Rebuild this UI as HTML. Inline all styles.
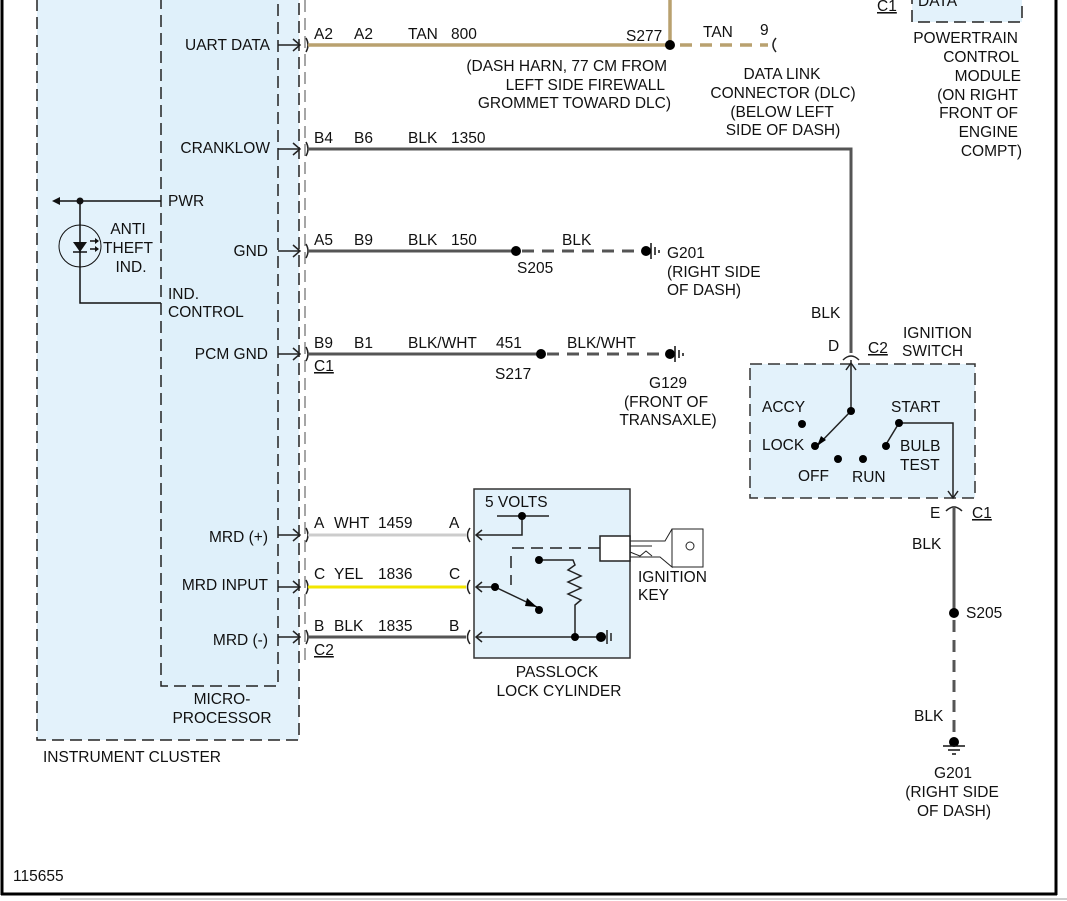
<!DOCTYPE html>
<html><head><meta charset="utf-8"><style>
html,body{margin:0;padding:0;background:#fff;width:1067px;height:901px;overflow:hidden}
svg{display:block}
text{font-family:"Liberation Sans",sans-serif;font-size:15.5px;fill:#111}
</style></head><body>
<svg width="1067" height="901" viewBox="0 0 1067 901">
<!-- frame -->
<line x1="2" y1="0" x2="2" y2="895" stroke="#000" stroke-width="3"/>
<line x1="1056" y1="0" x2="1056" y2="895" stroke="#000" stroke-width="3"/>
<line x1="1" y1="894" x2="1057" y2="894" stroke="#000" stroke-width="3"/>
<line x1="60" y1="899" x2="1067" y2="899" stroke="#999" stroke-width="1"/>

<!-- instrument cluster -->
<rect x="37" y="-5" width="262" height="745" fill="#e3f2fb" stroke="#222" stroke-width="1.5" stroke-dasharray="12,6"/>
<rect x="161" y="-5" width="117" height="691" fill="#dff0fa" stroke="#222" stroke-width="1.5" stroke-dasharray="12,6"/>
<line x1="305" y1="0" x2="305" y2="660" stroke="#888" stroke-width="1.5" stroke-dasharray="12,6"/>
<text x="270" y="50" text-anchor="end">UART DATA</text>
<text x="270" y="153" text-anchor="end">CRANKLOW</text>
<text x="168" y="206">PWR</text>
<text x="268" y="256" text-anchor="end">GND</text>
<text x="168" y="299">IND.</text>
<text x="168" y="317">CONTROL</text>
<text x="268" y="359" text-anchor="end">PCM GND</text>
<text x="268" y="542" text-anchor="end">MRD (+)</text>
<text x="268" y="590" text-anchor="end">MRD INPUT</text>
<text x="268" y="645" text-anchor="end">MRD (-)</text>
<text x="222" y="704" text-anchor="middle">MICRO-</text>
<text x="222" y="723" text-anchor="middle">PROCESSOR</text>
<text x="43" y="762">INSTRUMENT CLUSTER</text>
<text x="13" y="881">115655</text>

<!-- anti theft -->
<g stroke="#111" stroke-width="1.5" fill="none">
<polyline points="161,201 80,201 80,303 161,303"/>
<line x1="80" y1="201" x2="58" y2="201"/>
<circle cx="80" cy="246" r="21" stroke-width="1"/>
<line x1="73" y1="252" x2="87" y2="252"/>
<line x1="90" y1="241" x2="98" y2="241"/><line x1="90" y1="249" x2="98" y2="249"/>
</g>
<polygon points="52,201 60,197 60,205" fill="#111"/>
<circle cx="80" cy="201" r="3.5" fill="#111"/>
<polygon points="73,242 87,242 80,252" fill="#111"/>
<polygon points="99,241 95,238 95,244" fill="#111"/><polygon points="99,249 95,246 95,252" fill="#111"/>
<text x="128" y="234" text-anchor="middle">ANTI</text>
<text x="128" y="253" text-anchor="middle">THEFT</text>
<text x="131" y="272" text-anchor="middle">IND.</text>

<!-- pin arrows -->
<g stroke="#222" stroke-width="1.5" fill="none">
<path d="M278 45H300M293 39L300 45L293 51M306 38Q310 45 306 52"/>
<path d="M278 149H300M293 143L300 149L293 155M306 142Q310 149 306 156"/>
<path d="M278 251H300M293 245L300 251L293 257M306 244Q310 251 306 258"/>
<path d="M278 354H300M293 348L300 354L293 360M306 347Q310 354 306 361"/>
<path d="M278 535H300M293 529L300 535L293 541M306 528Q310 535 306 542"/>
<path d="M278 587H300M293 581L300 587L293 593M306 580Q310 587 306 594"/>
<path d="M278 637H300M293 631L300 637L293 643M306 630Q310 637 306 644"/>
</g>

<!-- wires -->
<line x1="308" y1="45" x2="670" y2="45" stroke="#b9a16f" stroke-width="3.5"/>
<line x1="670" y1="0" x2="670" y2="45" stroke="#b9a16f" stroke-width="3.5"/>
<line x1="680" y1="45" x2="768" y2="45" stroke="#b9a16f" stroke-width="3.5" stroke-dasharray="12,8"/>
<path d="M776 38Q770 45 776 52" stroke="#222" stroke-width="1.5" fill="none"/>
<circle cx="670" cy="45" r="5" fill="#000"/>
<polyline points="308,149 851,149 851,353" stroke="#555" stroke-width="3" fill="none"/>
<line x1="308" y1="251" x2="516" y2="251" stroke="#555" stroke-width="3"/>
<line x1="522" y1="251" x2="642" y2="251" stroke="#555" stroke-width="3" stroke-dasharray="12,8"/>
<circle cx="516" cy="251" r="5" fill="#000"/>
<line x1="308" y1="354" x2="541" y2="354" stroke="#555" stroke-width="3"/>
<line x1="547" y1="354" x2="667" y2="354" stroke="#555" stroke-width="3" stroke-dasharray="12,8"/>
<circle cx="541" cy="354" r="5" fill="#000"/>
<line x1="308" y1="535" x2="466" y2="535" stroke="#ccc" stroke-width="3"/>
<line x1="308" y1="587" x2="466" y2="587" stroke="#f2e600" stroke-width="3"/>
<line x1="308" y1="637" x2="466" y2="637" stroke="#555" stroke-width="3"/>
<g stroke="#222" stroke-width="1.5" fill="none">
<path d="M470 528Q465 535 470 542M470 580Q465 587 470 594M470 630Q465 637 470 644"/>
</g>

<!-- grounds -->
<g fill="#000">
<circle cx="646" cy="251" r="5"/><circle cx="670" cy="354" r="5"/>
</g>
<g stroke="#111" stroke-width="1.5">
<line x1="651" y1="243" x2="651" y2="259"/><line x1="655" y1="247" x2="655" y2="255"/><line x1="659" y1="250" x2="659" y2="253"/>
<line x1="675" y1="346" x2="675" y2="362"/><line x1="679" y1="350" x2="679" y2="358"/><line x1="683" y1="353" x2="683" y2="356"/>
</g>

<!-- wire labels -->
<text x="314" y="39">A2</text><text x="354" y="39">A2</text><text x="408" y="39">TAN</text><text x="451" y="39">800</text>
<text x="626" y="41">S277</text>
<text x="703" y="37">TAN</text><text x="760" y="35">9</text>
<text x="667" y="71" text-anchor="end">(DASH HARN, 77 CM FROM</text>
<text x="665" y="90" text-anchor="end">LEFT SIDE FIREWALL</text>
<text x="671" y="108" text-anchor="end">GROMMET TOWARD DLC)</text>
<text x="782" y="79" text-anchor="middle">DATA LINK</text>
<text x="783" y="98" text-anchor="middle">CONNECTOR (DLC)</text>
<text x="782" y="117" text-anchor="middle">(BELOW LEFT</text>
<text x="783" y="135" text-anchor="middle">SIDE OF DASH)</text>
<text x="314" y="143">B4</text><text x="354" y="143">B6</text><text x="408" y="143">BLK</text><text x="451" y="143">1350</text>
<text x="314" y="245">A5</text><text x="354" y="245">B9</text><text x="408" y="245">BLK</text><text x="451" y="245">150</text>
<text x="562" y="245">BLK</text><text x="517" y="273">S205</text>
<text x="667" y="258">G201</text><text x="667" y="277">(RIGHT SIDE</text><text x="667" y="295">OF DASH)</text>
<text x="314" y="348">B9</text><text x="354" y="348">B1</text><text x="408" y="348">BLK/WHT</text><text x="496" y="348">451</text>
<text x="567" y="348">BLK/WHT</text>
<text x="314" y="371" text-decoration="underline">C1</text>
<text x="495" y="379">S217</text>
<text x="668" y="388" text-anchor="middle">G129</text><text x="666" y="407" text-anchor="middle">(FRONT OF</text><text x="668" y="425" text-anchor="middle">TRANSAXLE)</text>
<text x="314" y="528">A</text><text x="334" y="528">WHT</text><text x="378" y="528">1459</text><text x="449" y="528">A</text>
<text x="314" y="579">C</text><text x="334" y="579">YEL</text><text x="378" y="579">1836</text><text x="449" y="579">C</text>
<text x="314" y="631">B</text><text x="334" y="631">BLK</text><text x="378" y="631">1835</text><text x="449" y="631">B</text>
<text x="314" y="655" text-decoration="underline">C2</text>

<!-- PCM -->
<rect x="912" y="-10" width="110" height="32" fill="#e3f2fb" stroke="#222" stroke-width="1.5" stroke-dasharray="12,6"/>
<text x="877" y="11" text-decoration="underline">C1</text>
<text x="918" y="6">DATA</text>
<text x="1018" y="43" text-anchor="end">POWERTRAIN</text>
<text x="1019" y="62" text-anchor="end">CONTROL</text>
<text x="1021" y="81" text-anchor="end">MODULE</text>
<text x="1018" y="100" text-anchor="end">(ON RIGHT</text>
<text x="1018" y="118" text-anchor="end">FRONT OF</text>
<text x="1018" y="137" text-anchor="end">ENGINE</text>
<text x="1022" y="156" text-anchor="end">COMPT)</text>

<!-- passlock -->
<rect x="474" y="489" width="156" height="169" fill="#e3f2fb" stroke="#333" stroke-width="1.5"/>
<g stroke="#222" stroke-width="1.5" fill="none">
<line x1="497" y1="516" x2="549" y2="516"/>
<polyline points="522,516 522,535 476,535"/>
<line x1="512" y1="548" x2="600" y2="548" stroke-dasharray="12,7"/>
<line x1="511" y1="556" x2="511" y2="585" stroke-dasharray="12,7"/>
<polyline points="476,587 495,587 537,607"/>
<polyline points="539,560 573,560 575,565 568,570 581,576 568,582 581,588 568,594 581,600 575,605 575,637"/>
<line x1="476" y1="637" x2="600" y2="637"/>
<path d="M482 530L476 535L482 540M482 582L476 587L482 592M482 632L476 637L482 642"/>
<line x1="607" y1="630" x2="607" y2="644"/><line x1="611" y1="633" x2="611" y2="641"/>
<rect x="600" y="536" width="30" height="25" fill="#fff"/>
<path d="M630 541H652M630 546H652M630 552L640 556L646 551L652 556" stroke-width="1"/>
<path d="M630 557H660L672 567V529L685 529H703V567H672" stroke-width="1"/>
<path d="M630 541L665 541L672 529" stroke-width="1"/>
<circle cx="690" cy="546" r="4" stroke-width="1"/>
</g>
<g fill="#000">
<circle cx="522" cy="516" r="4"/><circle cx="495" cy="587" r="4"/><circle cx="539" cy="610" r="4"/>
<circle cx="539" cy="560" r="4"/><circle cx="575" cy="637" r="4"/><circle cx="601" cy="637" r="5"/>
</g>
<polygon points="537,607 527,598 525,606" fill="#000"/>
<text x="485" y="507">5 VOLTS</text>
<text x="638" y="582">IGNITION</text><text x="638" y="600">KEY</text>
<text x="557" y="677" text-anchor="middle">PASSLOCK</text>
<text x="559" y="696" text-anchor="middle">LOCK CYLINDER</text>

<!-- ignition switch -->
<rect x="750" y="364" width="225" height="134" fill="#e3f2fb" stroke="#333" stroke-width="1.5" stroke-dasharray="12,6"/>
<g stroke="#222" stroke-width="1.5" fill="none">
<path d="M843 360Q851 352 859 360"/>
<line x1="851" y1="360" x2="851" y2="411"/>
<path d="M846 370L851 363L856 370"/>
<line x1="851" y1="411" x2="817" y2="446"/>
<line x1="885" y1="446" x2="899" y2="423"/>
<polyline points="899,423 953,423 953,498"/>
<path d="M948 491L953 498L958 491"/>
<path d="M946 511Q954 503 962 511"/>
</g>
<line x1="954" y1="506" x2="954" y2="613" stroke="#555" stroke-width="3"/>
<line x1="954" y1="620" x2="954" y2="738" stroke="#555" stroke-width="3" stroke-dasharray="12,8"/>
<polygon points="817,446 821,436 826,440" fill="#000"/>
<g fill="#000">
<circle cx="851" cy="411" r="4"/><circle cx="802" cy="424" r="4"/><circle cx="815" cy="446" r="4"/>
<circle cx="838" cy="459" r="4"/><circle cx="863" cy="459" r="4"/><circle cx="886" cy="446" r="4"/><circle cx="899" cy="423" r="4"/>
<circle cx="954" cy="613" r="5"/><circle cx="954" cy="742" r="5"/>
</g>
<g stroke="#111" stroke-width="1.5"><line x1="943" y1="746" x2="965" y2="746"/><line x1="948" y1="750" x2="960" y2="750"/><line x1="952" y1="754" x2="956" y2="754"/></g>
<text x="811" y="318">BLK</text>
<text x="828" y="351">D</text>
<text x="868" y="353" text-decoration="underline">C2</text>
<text x="903" y="338">IGNITION</text><text x="902" y="356">SWITCH</text>
<text x="762" y="412">ACCY</text><text x="891" y="412">START</text>
<text x="762" y="450">LOCK</text><text x="900" y="451">BULB</text><text x="900" y="470">TEST</text>
<text x="798" y="481">OFF</text><text x="852" y="482">RUN</text>
<text x="930" y="518">E</text>
<text x="972" y="518" text-decoration="underline">C1</text>
<text x="912" y="549">BLK</text>
<text x="966" y="618">S205</text>
<text x="914" y="721">BLK</text>
<text x="953" y="778" text-anchor="middle">G201</text>
<text x="952" y="797" text-anchor="middle">(RIGHT SIDE</text>
<text x="954" y="816" text-anchor="middle">OF DASH)</text>
</svg>
</body></html>
